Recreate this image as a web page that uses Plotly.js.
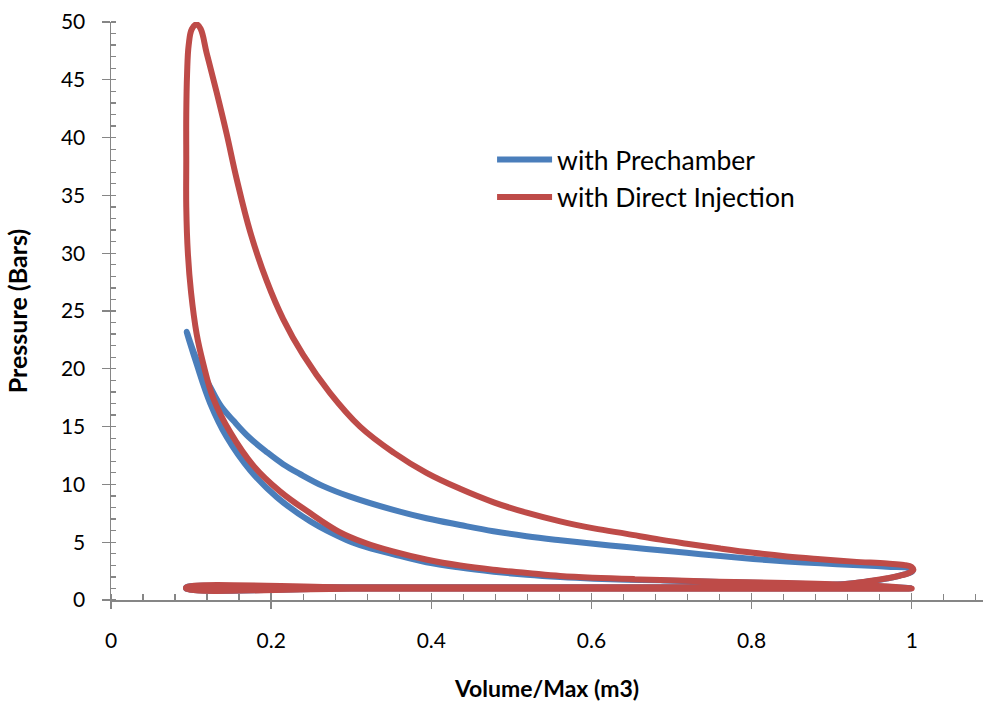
<!DOCTYPE html>
<html>
<head>
<meta charset="utf-8">
<script src="https://cdn.plot.ly/plotly-3.0.1.min.js"></script>
<style>html,body{margin:0;padding:0;background:#fff;}#chart{width:983px;height:708px;}</style>
</head>
<body>
<div id="chart"></div>
<script>
// Prechamber (blue): compression from BDC -> TDC tip -> expansion -> blowdown -> exhaust -> intake
const preVolume = [1.000,0.969,0.927,0.844,0.761,0.686,0.644,0.603,0.561,0.519,0.478,0.436,0.394,0.353,0.311,0.294,0.249,0.207,0.174,0.1445,0.124,0.107,0.0945,
  0.103,0.112,0.1237,0.137,0.153,0.172,0.1945,0.215,0.236,0.265,0.2986,0.3527,0.394,0.436,0.4776,0.519,0.561,0.6025,0.644,0.686,0.719,0.761,0.802,0.844,0.886,0.927,0.969,0.998,1.001,
  0.985,0.969,0.945,0.927,0.900,0.850,0.800,0.600,0.400,0.200,0.094,
  0.094,0.300,0.600,0.900,1.000];
const prePressure = [1.02,1.15,1.28,1.43,1.55,1.70,1.75,1.84,1.98,2.18,2.45,2.80,3.26,3.95,4.75,5.20,6.80,8.90,11.2,14.1,17.0,20.4,23.2,
  21.5,20.0,18.45,16.8,15.5,14.1,12.8,11.75,10.9,9.85,8.94,7.79,7.07,6.49,5.95,5.52,5.17,4.86,4.58,4.30,4.08,3.80,3.55,3.34,3.17,3.03,2.88,2.74,2.50,
  2.10,1.85,1.60,1.45,1.30,1.18,1.12,1.10,1.10,1.10,1.10,
  0.99,0.99,0.99,0.99,1.00];

// Direct Injection (red): starts mid-compression, TDC, combustion peak, expansion, blowdown, exhaust, intake, compression
const diVolume = [0.654,0.602,0.561,0.520,0.477,0.436,0.395,0.352,0.317,0.285,0.249,0.211,0.178,0.149,0.128,0.115,0.107,0.100,0.096,0.094,0.094,0.094,0.095,0.097,0.101,0.107,
  0.112,0.1195,0.132,0.1445,0.157,0.174,0.1945,0.215,0.240,0.2736,0.311,0.353,0.394,0.436,0.478,0.519,0.561,0.603,0.644,0.686,0.719,0.761,0.802,0.844,0.886,0.927,0.969,0.990,1.000,1.002,0.997,
  0.985,0.969,0.945,0.927,0.900,0.850,0.800,0.700,0.500,0.300,0.094,
  0.094,0.300,0.600,0.900,1.000,
  0.980,0.927,0.844,0.759,0.686,0.648];
const diPressure = [1.82,1.93,2.08,2.34,2.62,2.98,3.48,4.20,4.95,5.90,7.50,9.40,11.6,14.5,17.4,20.5,23.0,26.6,30.0,34.0,38.0,42.0,45.5,48.0,49.4,49.8,
  49.4,47.3,43.9,40.3,36.4,31.8,27.6,24.3,21.2,17.9,15.0,12.75,11.0,9.62,8.45,7.55,6.80,6.20,5.72,5.22,4.87,4.45,4.08,3.77,3.53,3.32,3.15,3.03,2.85,2.60,2.36,
  2.10,1.88,1.62,1.46,1.32,1.20,1.13,1.10,1.10,1.10,1.10,
  0.98,0.98,0.98,0.98,1.00,
  1.12,1.30,1.47,1.58,1.73,1.80];

const seriesNames = ['with Prechamber', 'with Direct Injection'];
const seriesColors = ['#4A7EBB', '#BE4B48'];
const xTitle = 'Volume/Max (m3)';
const yTitle = 'Pressure (Bars)';

const FONT = 'Lato, "Open Sans", "Liberation Sans", sans-serif';
const AX = '#868686';

const traces = [
  {x: preVolume, y: prePressure, name: seriesNames[0], mode: 'lines', line: {color: seriesColors[0], width: 6, shape: 'spline', smoothing: 1.1}},
  {x: diVolume, y: diPressure, name: seriesNames[1], mode: 'lines', line: {color: seriesColors[1], width: 6, shape: 'spline', smoothing: 1.1}},
  {x: [], y: [], xaxis: 'x2', yaxis: 'y2', showlegend: false, hoverinfo: 'skip'}
];

const xr = [0, 1.089];
const yr = [0, 50];

const layout = {
  width: 983, height: 708,
  margin: {l: 111, r: 0, t: 22, b: 108},
  paper_bgcolor: '#fff', plot_bgcolor: '#fff',
  font: {family: FONT, color: '#000'},
  showlegend: true,
  legend: {x: 0.437, y: 0.803, xanchor: 'left', yanchor: 'top', bgcolor: 'rgba(0,0,0,0)', font: {family: FONT, size: 26.5, color: '#000'}, itemwidth: 55},
  xaxis: {
    range: xr, dtick: 0.2, tick0: 0, showgrid: false, zeroline: false,
    showline: true, linecolor: AX, linewidth: 1.5,
    ticks: 'outside', ticklen: 7, tickwidth: 1.3, tickcolor: AX,
    tickfont: {family: FONT, size: 21, color: '#000'}, ticklabelstandoff: 14,
    minor: {dtick: 0.04, tick0: 0, ticks: 'inside', ticklen: 6, tickwidth: 1.3, tickcolor: AX, showgrid: false},
    title: {text: xTitle, font: {family: FONT, size: 23, weight: 'bold', color: '#000'}, standoff: 30}
  },
  yaxis: {
    range: yr, dtick: 5, tick0: 0, showgrid: false, zeroline: false,
    showline: true, linecolor: AX, linewidth: 1.5,
    ticks: 'outside', ticklen: 8, tickwidth: 1.3, tickcolor: AX,
    tickfont: {family: FONT, size: 21, color: '#000'}, ticklabelstandoff: 12,
    minor: {dtick: 1, tick0: 0, ticks: 'inside', ticklen: 5, tickwidth: 1.3, tickcolor: AX, showgrid: false},
    title: {text: yTitle, font: {family: FONT, size: 25, weight: 'bold', color: '#000'}, standoff: 26}
  },
  xaxis2: {overlaying: 'x', anchor: 'y', range: xr, dtick: 0.2, tick0: 0, ticks: 'inside', ticklen: 7, tickwidth: 1.3, tickcolor: AX,
    showticklabels: false, showgrid: false, zeroline: false, showline: false},
  yaxis2: {overlaying: 'y', anchor: 'x', range: yr, dtick: 5, tick0: 0, ticks: 'inside', ticklen: 5, tickwidth: 1.3, tickcolor: AX,
    showticklabels: false, showgrid: false, zeroline: false, showline: false}
};

Plotly.newPlot('chart', traces, layout, {displayModeBar: false, staticPlot: true});
</script>
</body>
</html>
